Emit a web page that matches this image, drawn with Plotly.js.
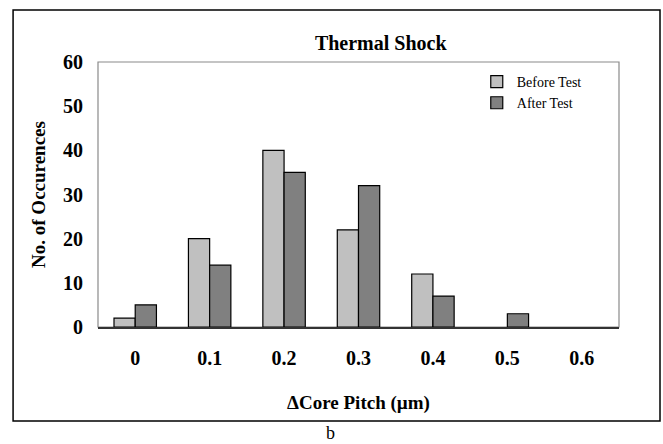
<!DOCTYPE html>
<html>
<head>
<meta charset="utf-8">
<script src="https://cdn.plot.ly/plotly-3.0.1.min.js"></script>
<style>html,body{margin:0;padding:0;background:#fff;}#chart{width:663px;height:444px;}</style>
</head>
<body>
<div id="chart"></div>
<script>
var categories = ['0', '0.1', '0.2', '0.3', '0.4', '0.5', '0.6'];
var beforeTest = [2, 20, 40, 22, 12, 0, 0];
var afterTest = [5, 14, 35, 32, 7, 3, 0];
var seriesNames = ['Before Test', 'After Test'];

var serif = '"Liberation Serif", "Times New Roman", serif';

function outlineWidths(vals) {
  return vals.map(function (v) { return v > 0 ? 1.2 : 0; });
}

var traces = [
  {type: 'bar', name: seriesNames[0], x: categories, y: beforeTest,
   marker: {color: '#c0c0c0', line: {color: '#000', width: outlineWidths(beforeTest)}}},
  {type: 'bar', name: seriesNames[1], x: categories, y: afterTest,
   marker: {color: '#808080', line: {color: '#000', width: outlineWidths(afterTest)}}}
];

var layout = {
  width: 663, height: 444,
  margin: {l: 98, r: 44, t: 62, b: 117},
  paper_bgcolor: '#fff', plot_bgcolor: '#fff',
  barmode: 'group', bargap: 0.43, bargroupgap: 0,
  font: {family: serif, color: '#000'},
  title: {text: '<b>Thermal Shock</b>', font: {family: serif, size: 20, color: '#000'},
          x: 0.5427, xanchor: 'center', y: 0.903, yanchor: 'middle', xref: 'paper', yref: 'container'},
  xaxis: {type: 'category', showgrid: false, zeroline: false,
          showline: true, linecolor: '#333', linewidth: 1.5,
          ticks: '', ticklabelstandoff: 12,
          tickprefix: '<b>', ticksuffix: '</b>',
          tickfont: {family: serif, size: 20, color: '#000'},
          title: {text: '<b>ΔCore Pitch (µm)</b>', font: {family: serif, size: 19, color: '#000'}, standoff: 28},
          fixedrange: true},
  yaxis: {range: [0, 60], dtick: 10, showgrid: false, zeroline: false,
          showline: false, ticks: '', ticklabelstandoff: 14,
          tickfont: {family: serif, size: 20, color: '#000'},
          tickprefix: '<b>', ticksuffix: '</b>',
          title: {text: '<b>No. of Occurences</b>', font: {family: serif, size: 19, color: '#000'}, standoff: 12},
          fixedrange: true},
  legend: {x: 0.727, y: 0.985, xanchor: 'left', yanchor: 'top',
           bgcolor: 'rgba(0,0,0,0)', font: {family: serif, size: 14, color: '#000'},
           tracegroupgap: 0, itemwidth: 30},
  showlegend: true,
  shapes: [
    {type: 'rect', xref: 'paper', yref: 'paper', x0: 0, x1: 1, y0: 0, y1: 1,
     line: {color: '#8a8a8a', width: 1.2}, layer: 'below'},
    {type: 'rect', xref: 'paper', yref: 'paper', x0: -0.163, x1: 1.0787, y0: -0.355, y1: 1.196,
     line: {color: '#000', width: 1.5}}
  ],
  annotations: [
    {text: 'b', xref: 'paper', yref: 'paper', x: 0.447, y: -0.4, showarrow: false,
     font: {family: serif, size: 18, color: '#000'}, xanchor: 'center', yanchor: 'middle'}
  ]
};

Plotly.newPlot('chart', traces, layout, {displayModeBar: false, staticPlot: true});
</script>
</body>
</html>
